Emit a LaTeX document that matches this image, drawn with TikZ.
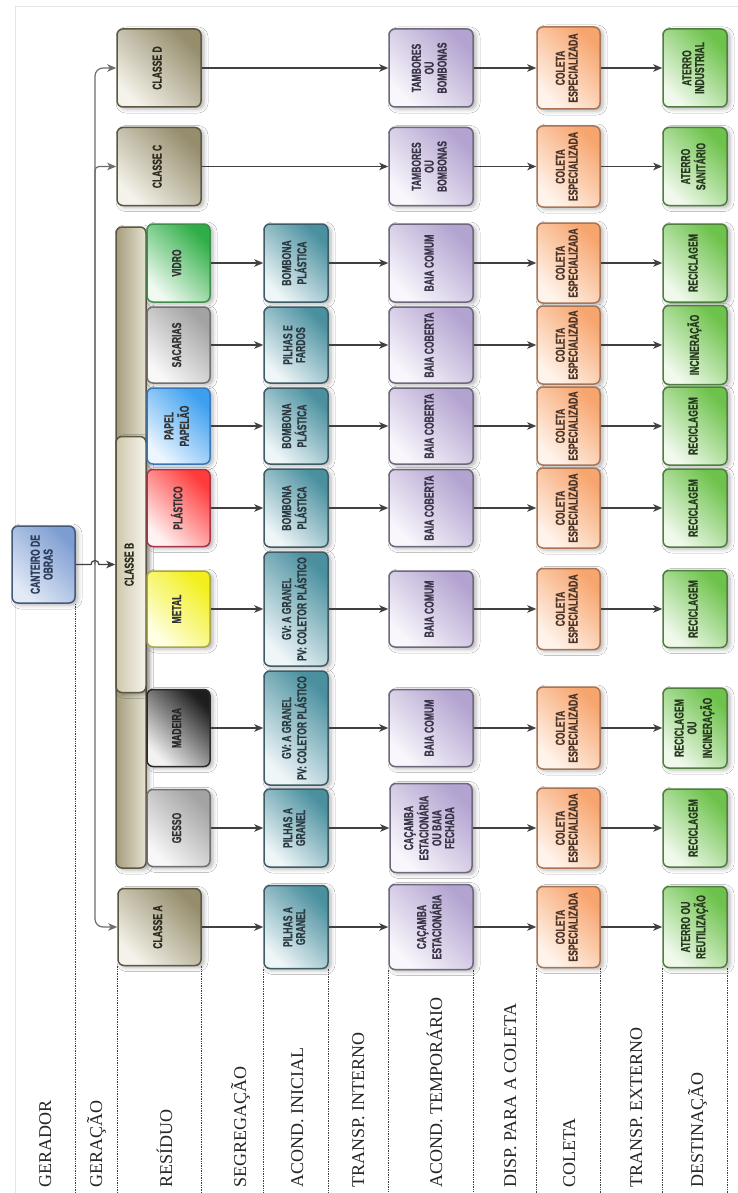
\documentclass[tikz,border=0pt]{standalone}
\usepackage{fontspec}
\setmainfont{Liberation Serif}
\newfontfamily\boxfont{Liberation Sans}[FakeStretch=0.66, BoldFeatures={FakeStretch=0.66, FakeBold=0.6}]
\usetikzlibrary{arrows.meta,shadows.blur}
\newcommand{\vtext}[1]{\rotatebox{90}{\begin{tabular}{@{}c@{}}#1\end{tabular}}}
\renewcommand{\arraystretch}{0.9}

\definecolor{cantTop}{HTML}{7D9DD2}\definecolor{cantBot}{HTML}{E2EAF6}\definecolor{cantLine}{HTML}{44587A}\definecolor{cantText}{HTML}{2C3B5A}
\definecolor{clsTop}{HTML}{958D6C}\definecolor{clsBot}{HTML}{F4F2EA}\definecolor{clsLine}{HTML}{5B5740}\definecolor{clsText}{HTML}{2D2B20}
\definecolor{barL}{HTML}{A49C7C}\definecolor{barR}{HTML}{E6E2D2}
\definecolor{cbL}{HTML}{CFC8AC}\definecolor{cbR}{HTML}{F6F4EC}
\definecolor{grayTop}{HTML}{A3A3A3}\definecolor{grayBot}{HTML}{F8F8F8}\definecolor{grayLine}{HTML}{707070}
\definecolor{woodTop}{HTML}{1E1E1E}\definecolor{woodBot}{HTML}{F2F2F2}\definecolor{woodLine}{HTML}{2A2A2A}
\definecolor{metTop}{HTML}{F2EF1C}\definecolor{metBot}{HTML}{FFFFE4}\definecolor{metLine}{HTML}{A8A648}
\definecolor{plaTop}{HTML}{FF3B3B}\definecolor{plaBot}{HTML}{FFF2F2}\definecolor{plaLine}{HTML}{A8324A}
\definecolor{papTop}{HTML}{3D9FF0}\definecolor{papBot}{HTML}{EDF6FF}\definecolor{papLine}{HTML}{3878B8}
\definecolor{vidTop}{HTML}{2FAE47}\definecolor{vidBot}{HTML}{F0FAF1}\definecolor{vidLine}{HTML}{3E8F4C}
\definecolor{aiTop}{HTML}{4A909F}\definecolor{aiBot}{HTML}{EFF6F8}\definecolor{aiLine}{HTML}{3E5C68}\definecolor{aiText}{HTML}{2A3A40}
\definecolor{atTop}{HTML}{B3A3D0}\definecolor{atBot}{HTML}{F9F7FC}\definecolor{atLine}{HTML}{6E687C}\definecolor{atText}{HTML}{3A3448}
\definecolor{coTop}{HTML}{F7A56E}\definecolor{coBot}{HTML}{FFF4EC}\definecolor{coLine}{HTML}{A87656}\definecolor{coText}{HTML}{4A3428}
\definecolor{deTop}{HTML}{6CC24A}\definecolor{deBot}{HTML}{F0F9EC}\definecolor{deLine}{HTML}{4F7F3F}\definecolor{deText}{HTML}{26381D}
\definecolor{wire}{HTML}{404040}
\definecolor{bus}{HTML}{6E6E6E}

\tikzset{
  box/.style={draw, rounded corners=6pt, line width=1.5pt, inner sep=1pt,
    font=\boxfont\bfseries\fontsize{13}{14}\selectfont, text=black!80,
    blur shadow={shadow xshift=3pt, shadow yshift=-2pt, shadow blur radius=4pt, shadow opacity=30}},
  grad/.style 2 args={top color=#1, bottom color=#2, shading angle=-45},
  cant/.style={box, grad={cantTop}{cantBot}, draw=cantLine, text=cantText},
  cls/.style={box, grad={clsTop}{clsBot}, draw=clsLine, text=clsText},
  gesso/.style={box, grad={grayTop}{grayBot}, draw=grayLine, text=black!80},
  wood/.style={box, grad={woodTop}{woodBot}, draw=woodLine, text=black!85},
  metal/.style={box, grad={metTop}{metBot}, draw=metLine, text=black!80},
  plast/.style={box, grad={plaTop}{plaBot}, draw=plaLine, text=black!80},
  paper/.style={box, grad={papTop}{papBot}, draw=papLine, text=black!80},
  glass/.style={box, grad={vidTop}{vidBot}, draw=vidLine, text=black!80},
  acini/.style={box, grad={aiTop}{aiBot}, draw=aiLine, text=aiText},
  actemp/.style={box, grad={atTop}{atBot}, draw=atLine, text=atText},
  colbox/.style={box, grad={coTop}{coBot}, draw=coLine, text=coText},
  destbox/.style={box, grad={deTop}{deBot}, draw=deLine, text=deText},
  sz/.style 2 args={minimum width=#1, minimum height=#2},
  lab/.style={rotate=90, anchor=base west, inner sep=0pt, font=\fontsize{18}{20}\selectfont, text=black!85},
  dots/.style={densely dotted, line width=1.4pt, black!75},
  arr/.style={line width=1.2pt, draw=wire, -{Stealth[length=9pt,width=7.5pt,inset=2.5pt]}},
  busarr/.style={line width=1.2pt, draw=bus, -{Stealth[length=9pt,width=7.5pt,inset=2.5pt]}, fill=none},
}

\begin{document}
\begin{tikzpicture}[x=1pt, y=-1pt]
\useasboundingbox (0,0) rectangle (738,1193);
\fill[white] (0,0) rectangle (738,1193);
\draw[black!10, line width=1pt] (15,1193) -- (15,7) -- (738,7);

% stage labels
\node[lab] (lgerador) at (51,1188) {GERADOR};
\node[lab] (lgeracao) at (102,1188) {GERAÇÃO};
\node[lab] (lresiduo) at (172,1188) {RESÍDUO};
\node[lab] (lsegreg)  at (246,1188) {SEGREGAÇÃO};
\node[lab] (lacini)   at (303,1188) {ACOND. INICIAL};
\node[lab] (ltransi)  at (364,1188) {TRANSP. INTERNO};
\node[lab] (lactemp)  at (442,1188) {ACOND. TEMPORÁRIO};
\node[lab] (ldisp)    at (516,1188) {DISP. PARA A COLETA};
\node[lab] (lcoleta)  at (575,1188) {COLETA};
\node[lab] (ltranse)  at (642,1188) {TRANSP. EXTERNO};
\node[lab] (ldest)    at (703,1188) {DESTINAÇÃO};

% generator
\node[cant, sz={63}{77}] (cant) at (43.5,564.5) {\vtext{CANTEIRO DE\\OBRAS}};

% waste classes
\node[cls, sz={84}{78}] (cd) at (159,68) {\vtext{CLASSE D}};
\node[cls, sz={84}{78}] (cc) at (159,166.5) {\vtext{CLASSE C}};
\node[cls, sz={83}{77}] (ca) at (159.5,927) {\vtext{CLASSE A}};
\node[box, left color=barL, right color=barR, draw=clsLine, sz={30}{641}] (cbar) at (131,547.5) {};
\node[box, left color=cbL, right color=cbR, draw=clsLine, text=clsText, sz={30}{256}] (cb) at (131,564.5) {\vtext{CLASSE B}};

% class B segregation
\node[glass, sz={63}{78}] (sV) at (178.5,263) {\vtext{VIDRO}};
\node[gesso, sz={63}{76}] (sS) at (178.5,345) {\vtext{SACARIAS}};
\node[paper, sz={63}{76}] (sP) at (178.5,426) {\vtext{PAPEL\\PAPELÃO}};
\node[plast, sz={63}{77}] (sL) at (178.5,508) {\vtext{PLÁSTICO}};
\node[metal, sz={63}{76}] (sM) at (178.5,609) {\vtext{METAL}};
\node[wood,  sz={63}{77}] (sW) at (178.5,728) {\vtext{MADEIRA}};
\node[gesso, sz={63}{77}] (sG) at (178.5,828) {\vtext{GESSO}};

% initial packaging
\node[acini, sz={64}{78}]  (aiV) at (296,263) {\vtext{BOMBONA\\PLÁSTICA}};
\node[acini, sz={64}{76}]  (aiS) at (296,345) {\vtext{PILHAS E\\FARDOS}};
\node[acini, sz={64}{76}]  (aiP) at (296,426) {\vtext{BOMBONA\\PLÁSTICA}};
\node[acini, sz={64}{78}]  (aiL) at (296,508) {\vtext{BOMBONA\\PLÁSTICA}};
\node[acini, sz={64}{114}] (aiM) at (296,609) {\vtext{GV: A GRANEL\\PV: COLETOR PLÁSTICO}};
\node[acini, sz={64}{114}] (aiW) at (296,728) {\vtext{GV: A GRANEL\\PV: COLETOR PLÁSTICO}};
\node[acini, sz={64}{78}]  (aiG) at (296,828) {\vtext{PILHAS A\\GRANEL}};
\node[acini, sz={64}{83}]  (aiA) at (296,927) {\vtext{PILHAS A\\GRANEL}};

% temporary packaging
\node[actemp, sz={84}{78}] (atD) at (431,68) {\vtext{TAMBORES\\OU\\BOMBONAS}};
\node[actemp, sz={84}{78}] (atC) at (431,166.5) {\vtext{TAMBORES\\OU\\BOMBONAS}};
\node[actemp, sz={84}{78}] (atV) at (431,263) {\vtext{BAIA COMUM}};
\node[actemp, sz={84}{76}] (atS) at (431,345) {\vtext{BAIA COBERTA}};
\node[actemp, sz={84}{76}] (atP) at (431,426) {\vtext{BAIA COBERTA}};
\node[actemp, sz={84}{77}] (atL) at (431,508) {\vtext{BAIA COBERTA}};
\node[actemp, sz={84}{76}] (atM) at (431,609) {\vtext{BAIA COMUM}};
\node[actemp, sz={84}{77}] (atW) at (431,728) {\vtext{BAIA COMUM}};
\node[actemp, sz={82}{89}] (atG) at (431,828) {\vtext{CAÇAMBA\\ESTACIONÁRIA\\OU BAIA\\FECHADA}};
\node[actemp, sz={84}{85}] (atA) at (431,927) {\vtext{CAÇAMBA\\ESTACIONÁRIA}};

% collection
\foreach \k/\y/\h in {D/68/82, C/166.5/81, V/263/80, S/345/78, P/426/78, L/508/80, M/609/81, W/728/82, G/828/80, A/927/81}
  \node[colbox, sz={63}{\h}] (co\k) at (568.5,\y) {\vtext{COLETA\\ESPECIALIZADA}};

% final destination
\node[destbox, sz={64}{78}] (deD) at (695,68) {\vtext{ATERRO\\INDUSTRIAL}};
\node[destbox, sz={64}{78}] (deC) at (695,166.5) {\vtext{ATERRO\\SANITÁRIO}};
\node[destbox, sz={64}{78}] (deV) at (695,263) {\vtext{RECICLAGEM}};
\node[destbox, sz={64}{79}] (deS) at (695,345) {\vtext{INCINERAÇÃO}};
\node[destbox, sz={64}{78}] (deP) at (695,426) {\vtext{RECICLAGEM}};
\node[destbox, sz={64}{78}] (deL) at (695,508) {\vtext{RECICLAGEM}};
\node[destbox, sz={64}{77}] (deM) at (695,609) {\vtext{RECICLAGEM}};
\node[destbox, sz={64}{80}] (deW) at (695,728) {\vtext{RECICLAGEM\\OU\\INCINERAÇÃO}};
\node[destbox, sz={64}{78}] (deG) at (695,828) {\vtext{RECICLAGEM}};
\node[destbox, sz={64}{81}] (deA) at (695,927) {\vtext{ATERRO OU\\REUTILIZAÇÃO}};

% generator to classes
\coordinate (j) at (95,564.5);
\draw[busarr, rounded corners=8pt] (j) |- (cd.west);
\draw[busarr, rounded corners=8pt] (j) |- (ca.west);
\draw[busarr, rounded corners=4pt] (j) |- (cc.west);
\draw[arr] (cant.east) -- ([xshift=-4pt]j) arc[start angle=180, end angle=0, radius=4pt] -- (cb.west);

% flows
\foreach \k in {V,S,P,L,M,W,G} \draw[arr] (s\k.east) -- (ai\k.west);
\draw[arr] (ca.east) -- (aiA.west);
\foreach \k in {V,S,P,L,M,W,G,A} \draw[arr] (ai\k.east) -- (at\k.west);
\draw[arr] (cd.east) -- (atD.west);
\draw[arr] (cc.east) -- (atC.west);
\foreach \k in {D,C,V,S,P,L,M,W,G,A} {
  \draw[arr] (at\k.east) -- (co\k.west);
  \draw[arr] (co\k.east) -- (de\k.west);
}

% stage separators
\coordinate (bot) at (0,1193);
\foreach \n/\a in {cant/south east, ca/south west, ca/south east, aiA/south west, aiA/south east,
                   atA/south west, atA/south east, coA/south west, coA/south east, deA/south west, deA/south east}
  \draw[dots] (\n.\a) -- (\n.\a |- bot);
\end{tikzpicture}
\end{document}
